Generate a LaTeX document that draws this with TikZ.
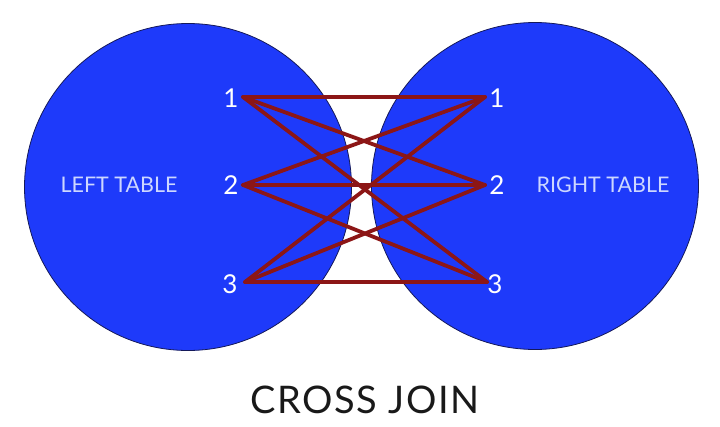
\documentclass[tikz,border=0pt]{standalone}
\usepackage{fontspec}
\setmainfont{Lato}
\newfontfamily\titlefont[LetterSpace=4]{Lato}
\definecolor{circblue}{RGB}{30,58,250}
\definecolor{circedge}{RGB}{20,25,90}
\definecolor{linkred}{RGB}{140,22,22}
\definecolor{labelcol}{RGB}{205,215,255}
\begin{document}
\begin{tikzpicture}[x=1pt,y=-1pt,
  tablecirc/.style={circle,draw=circedge,line width=0.8pt,fill=circblue,minimum size=327pt,inner sep=0pt},
  numlbl/.style={text=white,font=\fontsize{26}{26}\selectfont,inner sep=0pt},
  tablbl/.style={text=labelcol,font=\fontsize{21.5}{21.5}\selectfont,inner sep=0pt},
  link/.style={draw=linkred,line width=3.8pt,line cap=round}]
\useasboundingbox (0,0) rectangle (720,426);
\node[tablecirc] (lc) at (188,187) {};
\node[tablecirc] (rc) at (535,186) {};
\node[tablbl] (lt) at (119,185) {LEFT TABLE};
\node[tablbl] (rt) at (603,185) {RIGHT TABLE};
\node[numlbl] (n1) at (231,98) {1};
\node[numlbl] (n2) at (231,185) {2};
\node[numlbl] (n3) at (230,284) {3};
\node[numlbl] (m1) at (497,98) {1};
\node[numlbl] (m2) at (497,185) {2};
\node[numlbl] (m3) at (495,284) {3};
\coordinate (a1) at (243,97);
\coordinate (a2) at (243,185);
\coordinate (a3) at (245,282);
\coordinate (b1) at (485,97);
\coordinate (b2) at (485,185);
\coordinate (b3) at (487,282);
\foreach \i in {1,2,3}{
  \foreach \j in {1,2,3}{
    \draw[link] (a\i) -- (b\j);
  }
}
\node[font=\titlefont\fontsize{38}{38}\selectfont,text=black!90,inner sep=0pt] (title) at (365,400) {CROSS JOIN};
\end{tikzpicture}
\end{document}
